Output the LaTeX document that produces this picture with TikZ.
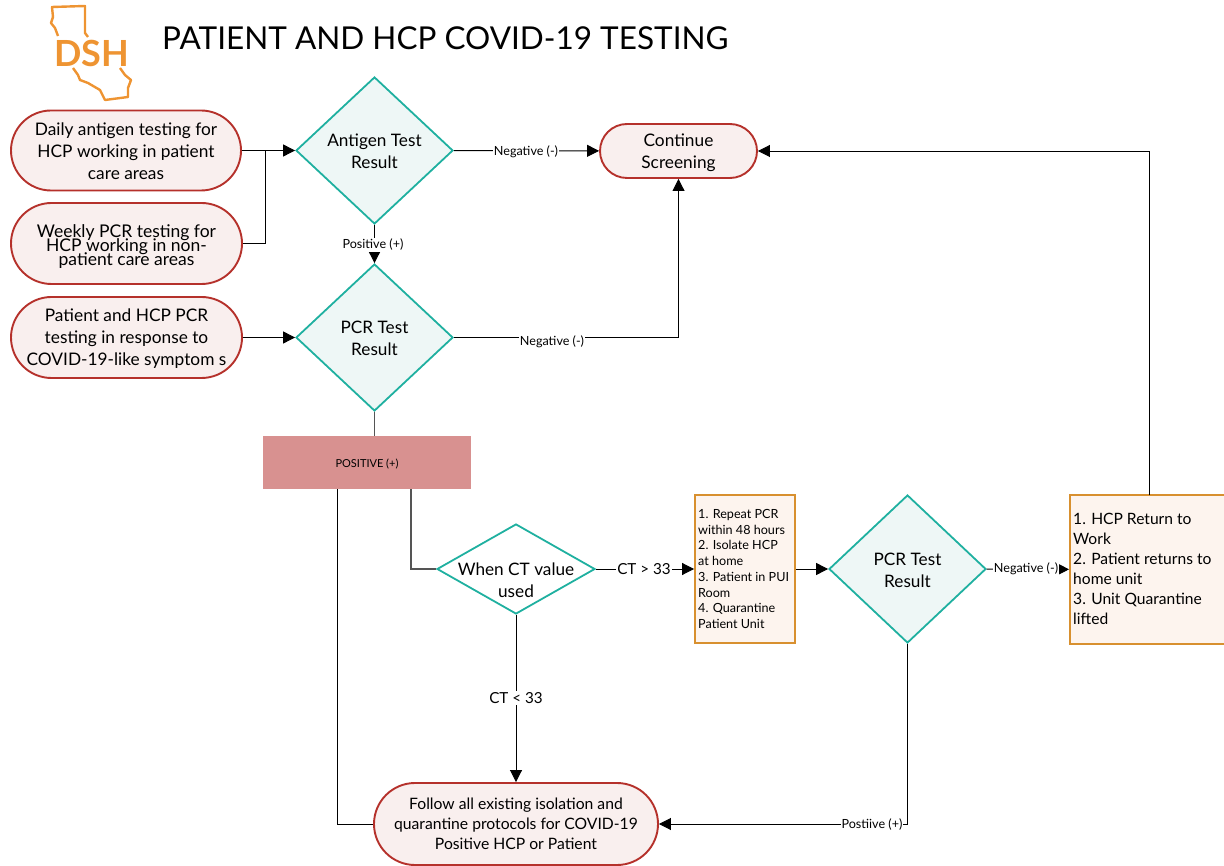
\documentclass[tikz,border=0pt]{standalone}
\usepackage{fontspec}
\setmainfont{Lato}
\usetikzlibrary{arrows.meta,shapes.geometric,shapes.misc}
\definecolor{tealline}{HTML}{1FB0A0}
\definecolor{tealfill}{HTML}{EEF7F6}
\definecolor{redline}{HTML}{B5312B}
\definecolor{redfill}{HTML}{F9EFEE}
\definecolor{orangeline}{HTML}{D8902F}
\definecolor{orangefill}{HTML}{FDF4EE}
\definecolor{pinkfill}{HTML}{D89190}
\definecolor{logoorange}{HTML}{EE9432}
\definecolor{greyline}{HTML}{555555}
\newcommand{\tightlines}{\lineskiplimit -20pt\relax}
\newcommand{\lowerline}[1]{\rule{0pt}{#1}}
\tikzset{
    decision/.style={diamond, draw=tealline, fill=tealfill, line width=1.8pt, inner sep=-4pt, aspect=1, align=center, font=\fontsize{17.2}{22}\selectfont},
    source/.style={rounded rectangle, draw=redline, fill=redfill, line width=1.9pt, inner sep=0pt, align=center, font=\fontsize{17.3}{22}\selectfont},
    notebox/.style={rectangle, draw=orangeline, fill=orangefill, line width=1.9pt, inner sep=0pt},
    edgelabel/.style={fill=white, inner sep=1pt, font=\fontsize{12.6}{14}\selectfont},
    flow/.style={-{Triangle[length=12pt, width=12pt]}, line width=0.9pt, black},
    plain/.style={line width=0.9pt, black},
    greyflow/.style={line width=1.2pt, greyline}
}
\begin{document}
\begin{tikzpicture}[x=1pt, y=-1pt]
    \useasboundingbox (0, 0) rectangle (1224, 866);

    % logo and title
    \draw[logoorange, line width=2.4pt, line join=round] (58, 36) -- (55, 28) -- (51, 23) -- (53, 17) -- (52, 7) -- (85, 6) -- (85, 33) -- (88, 37);
    \draw[logoorange, line width=2.4pt, line join=round] (73, 68) -- (78, 75) -- (80, 80) -- (88, 83) -- (100, 90) -- (105, 100) -- (128, 97) -- (128, 88) -- (131, 80) -- (125, 75) -- (120, 68);
    \node[text=logoorange, inner sep=0pt, font=\fontsize{36}{36}\selectfont\bfseries] (logo) at (91.5, 53) {DSH};
    \node[anchor=west, inner sep=0pt, font=\fontsize{31.5}{34}\selectfont] (title) at (162, 38) {PATIENT AND HCP COVID-19 TESTING};

    % sources
    \node[source, minimum width=230pt, minimum height=80pt] (daily) at (126, 150.5) {\lowerline{15pt}Daily antigen testing for\\HCP working in patient\\care areas};
    \node[source, minimum width=231pt, minimum height=81pt, font=\fontsize{17.5}{14}\selectfont\tightlines] (weekly) at (126.5, 243.5) {\lowerline{19pt}Weekly PCR testing for\\HCP working in non-\\patient care areas};
    \node[source, minimum width=231pt, minimum height=81pt] (symptoms) at (126.5, 337.5) {\lowerline{15pt}Patient and HCP PCR\\testing in response to\\COVID-19-like symptom s};

    % decisions
    \node[decision, minimum width=157pt, minimum height=147pt] (antigen) at (374.5, 150.5) {\lowerline{15pt}Antigen Test\\Result};
    \node[decision, minimum width=157pt, minimum height=147pt] (pcrone) at (374.5, 337.5) {\lowerline{15pt}PCR Test\\Result};
    \node[decision, minimum width=158pt, minimum height=90pt, fill=white, aspect=1.756, inner sep=-24pt] (ctvalue) at (516, 569) {\lowerline{35pt}When CT value\\used};
    \node[decision, minimum width=157pt, minimum height=148pt] (pcrtwo) at (907.5, 569) {\lowerline{15pt}PCR Test\\Result};

    % ends
    \node[source, minimum width=157pt, minimum height=54pt] (screening) at (678.5, 151) {\lowerline{17pt}Continue\\Screening};
    \node[source, minimum width=284pt, minimum height=82pt, font=\fontsize{15.7}{20}\selectfont] (follow) at (516, 824) {Follow all existing isolation and\\quarantine protocols for COVID-19\\Positive HCP or Patient};

    % boxes
    \node[rectangle, fill=pinkfill, minimum width=208pt, minimum height=53pt, inner sep=0pt, font=\fontsize{11}{13}\selectfont] (positive) at (367, 462.5) {\lowerline{12pt}POSITIVE (+)};
    \node[notebox, minimum width=100pt, minimum height=148pt] (repeat) at (745, 569) {};
    \node[anchor=west, inner sep=0pt, align=left, font=\fontsize{12.6}{15.7}\selectfont] (repeattext) at (698, 569) {1. Repeat PCR\\within 48 hours\\2. Isolate HCP\\at home\\3. Patient in PUI\\Room\\4. Quarantine\\Patient Unit};
    \node[notebox, minimum width=158pt, minimum height=149pt] (back) at (1149, 569.5) {};
    \node[anchor=west, inner sep=0pt, align=left, font=\fontsize{15.6}{20}\selectfont] (backtext) at (1073, 569) {1. HCP Return to\\Work\\2. Patient returns to\\home unit\\3. Unit Quarantine\\lifted};

    \coordinate (merge) at (265, 150.5);
    \coordinate (posleft) at (337, 489);
    \coordinate (posright) at (411, 489);
    \coordinate (backtop) at (1149, 495);

    % connectors
    \draw[flow] (daily) -- (antigen);
    \draw[plain] (weekly) -| (merge);
    \draw[flow] (antigen) -- (screening);
    \draw[flow] (antigen) -- (pcrone);
    \draw[flow] (symptoms) -- (pcrone);
    \draw[flow] (pcrone) -| (screening);
    \draw[greyflow] (pcrone) -- (pcrone |- positive.north);
    \draw[plain] (posleft) |- (follow);
    \draw[greyflow] (posright) |- (ctvalue);
    \draw[flow] (ctvalue) -- (repeat);
    \draw[flow] (ctvalue) -- (follow);
    \draw[flow] (repeat) -- (pcrtwo);
    \draw[flow] (pcrtwo) -- (back);
    \draw[flow] (pcrtwo) |- (follow);
    \draw[flow] (backtop) |- (screening);

    % connector labels
    \node[edgelabel] (negone) at (526, 151.5) {Negative (-)};
    \node[edgelabel] (posone) at (373, 245) {Positive (+)};
    \node[edgelabel] (negtwo) at (552, 342) {Negative (-)};
    \node[edgelabel, font=\fontsize{15.2}{17}\selectfont] (ctabove) at (644, 569.5) {CT > 33};
    \node[edgelabel, font=\fontsize{15.2}{17}\selectfont] (ctbelow) at (516, 698) {CT < 33};
    \node[edgelabel] (negthree) at (1026, 569) {Negative (-)};
    \node[edgelabel] (postwo) at (872, 825) {Postiive (+)};
\end{tikzpicture}
\end{document}
